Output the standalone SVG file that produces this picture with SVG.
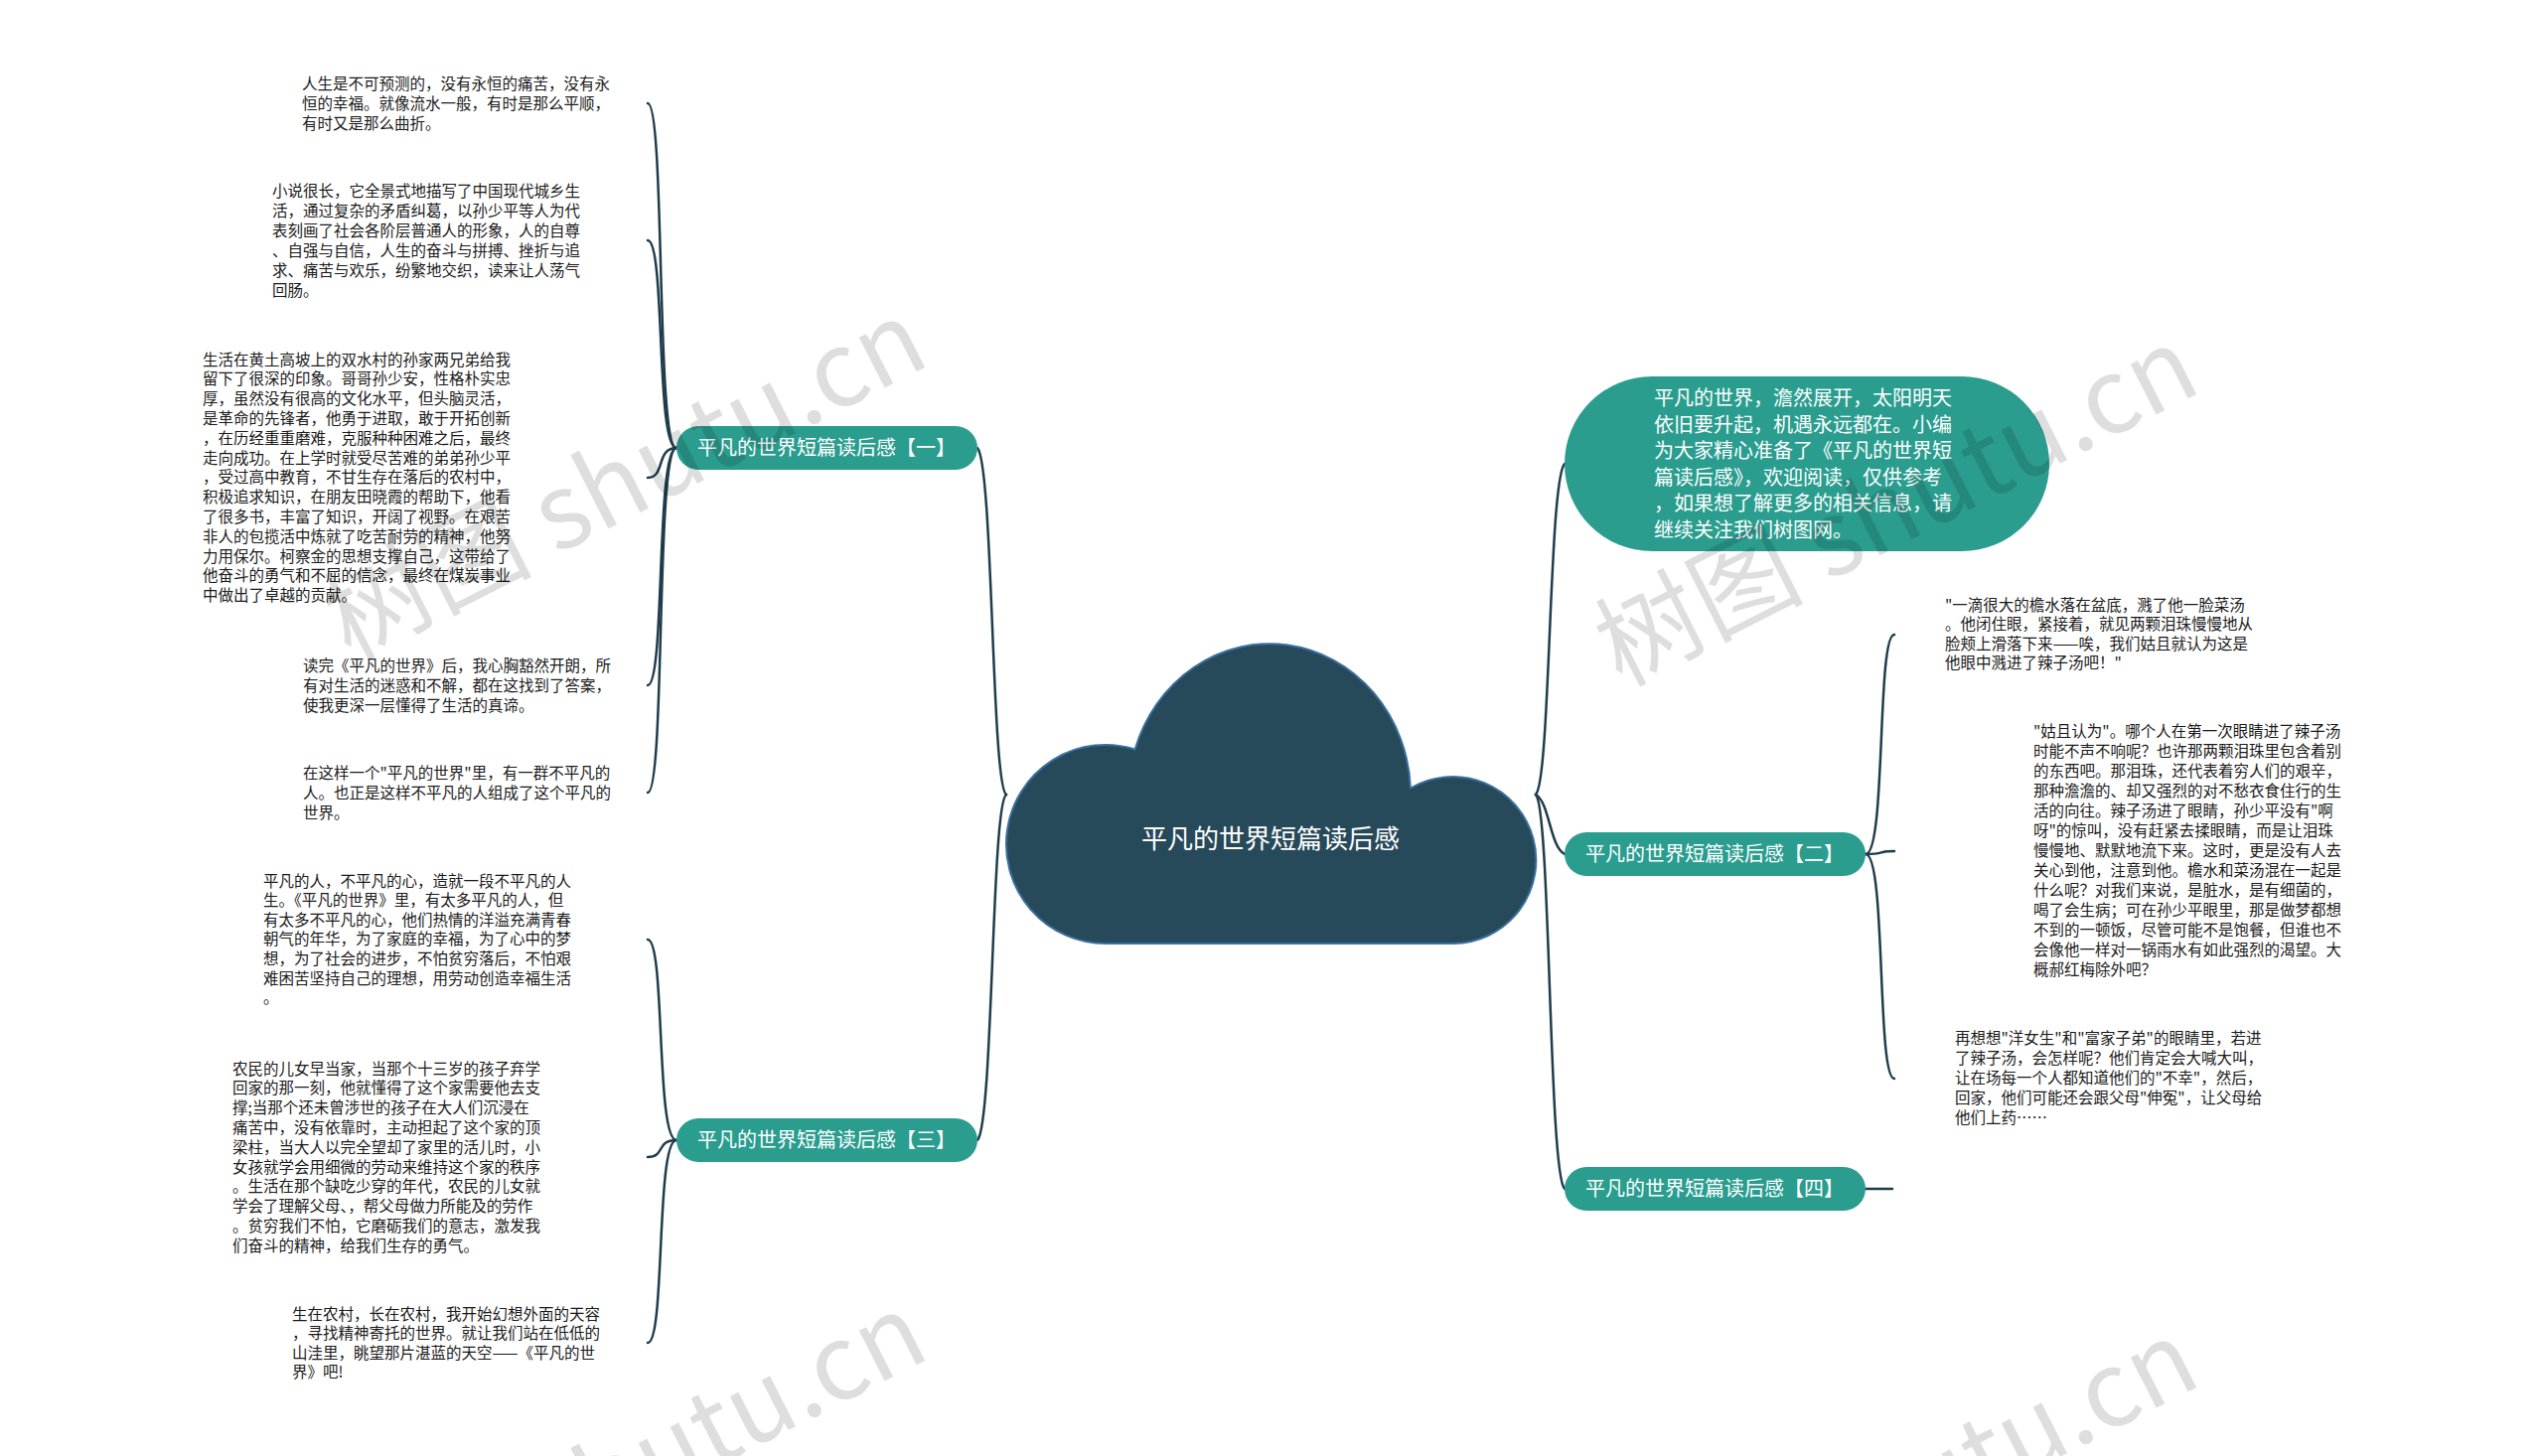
<svg xmlns="http://www.w3.org/2000/svg" width="2560" height="1466" viewBox="0 0 2560 1466">
<style>
.bg{fill:#ffffff}
.txt{font-family:"Noto Sans CJK SC","Noto Sans",sans-serif;font-size:15.5px;fill:#1a1a1a}
.node rect{fill:#2a9d8f}
.ntxt{font-family:"Noto Sans CJK SC","Noto Sans",sans-serif;font-size:20px;fill:#ffffff;text-anchor:middle}
.ptxt{font-family:"Noto Sans CJK SC","Noto Sans",sans-serif;font-size:20px;fill:#ffffff}
.ctxt{font-family:"Noto Sans CJK SC","Noto Sans",sans-serif;font-size:26px;fill:#ffffff;text-anchor:middle}
.conn path{fill:none;stroke:#1f3c4b;stroke-width:2.5;stroke-linecap:round}
.wm{font-family:"Noto Sans CJK SC","Noto Sans",sans-serif;font-size:105px;fill:#000000;fill-opacity:0.13}
</style>
<rect class="bg" x="0" y="0" width="2560" height="1466"/>

<g id="connectors" class="conn">
  <path d="M1013,800 C998,790 1000,470 984,451"/>
  <path d="M1013,800 C998,810 1000,1130 984,1148"/>
  <path d="M1546,800 C1561,785 1559,485 1575,467"/>
  <path d="M1546,800 C1560,808 1560,852 1575,860"/>
  <path d="M1546,800 C1561,815 1559,1180 1575,1197"/>
  <path d="M681,451 C660,451 670,104 652,104"/>
  <path d="M681,451 C660,451 670,242 652,242"/>
  <path d="M681,451 C660,451 670,481 652,481"/>
  <path d="M681,451 C660,451 670,690 652,690"/>
  <path d="M681,451 C660,451 670,798 652,798"/>
  <path d="M681,1148 C660,1148 670,946 652,946"/>
  <path d="M681,1148 C660,1148 670,1165 652,1165"/>
  <path d="M681,1148 C660,1148 670,1352 652,1352"/>
  <path d="M1878,860 C1899,860 1889,639 1907,639"/>
  <path d="M1878,860 C1899,860 1889,857 1907,857"/>
  <path d="M1878,860 C1899,860 1889,1086 1907,1086"/>
  <path d="M1878,1197 L1905,1197"/>
</g>

<g id="root">
  <path d="M1114,950 A100,100 0 1 1 1142.6,754.5 A142,152 0 0 1 1419.9,793.5 A84,84 0 1 1 1463,950 Z" fill="#274a5a" stroke="#3a6fa0" stroke-width="2"/>
  <text class="ctxt" x="1279" y="854">平凡的世界短篇读后感</text>
</g>

<g id="intro" class="node">
  <rect x="1575" y="379" width="488" height="176" rx="88" ry="88"/>
  <text class="ptxt">
    <tspan x="1665" y="408">平凡的世界，澹然展开，太阳明天</tspan>
    <tspan x="1665" y="434.5">依旧要升起，机遇永远都在。小编</tspan>
    <tspan x="1665" y="461">为大家精心准备了《平凡的世界短</tspan>
    <tspan x="1665" y="487.5">篇读后感》，欢迎阅读，仅供参考</tspan>
    <tspan x="1665" y="514">，如果想了解更多的相关信息，请</tspan>
    <tspan x="1665" y="540.5">继续关注我们树图网。</tspan>
  </text>
</g>

<g id="branch1" class="node">
  <rect x="681" y="429" width="303" height="44" rx="22" ry="22"/>
  <text class="ntxt" x="832" y="458">平凡的世界短篇读后感【一】</text>
</g>
<g id="branch2" class="node">
  <rect x="1575" y="838" width="303" height="44" rx="22" ry="22"/>
  <text class="ntxt" x="1726" y="867">平凡的世界短篇读后感【二】</text>
</g>
<g id="branch3" class="node">
  <rect x="681" y="1126" width="303" height="44" rx="22" ry="22"/>
  <text class="ntxt" x="832" y="1155">平凡的世界短篇读后感【三】</text>
</g>
<g id="branch4" class="node">
  <rect x="1575" y="1175" width="303" height="44" rx="22" ry="22"/>
  <text class="ntxt" x="1726" y="1204">平凡的世界短篇读后感【四】</text>
</g>

<g id="leaf1-1">
  <text class="txt">
    <tspan x="304" y="89.5">人生是不可预测的，没有永恒的痛苦，没有永</tspan>
    <tspan x="304" y="109.5">恒的幸福。就像流水一般，有时是那么平顺，</tspan>
    <tspan x="304" y="129.5">有时又是那么曲折。</tspan>
  </text>
</g>
<g id="leaf1-2">
  <text class="txt">
    <tspan x="274" y="197.5">小说很长，它全景式地描写了中国现代城乡生</tspan>
    <tspan x="274" y="217.5">活，通过复杂的矛盾纠葛，以孙少平等人为代</tspan>
    <tspan x="274" y="237.5">表刻画了社会各阶层普通人的形象，人的自尊</tspan>
    <tspan x="274" y="257.5">、自强与自信，人生的奋斗与拼搏、挫折与追</tspan>
    <tspan x="274" y="277.5">求、痛苦与欢乐，纷繁地交织，读来让人荡气</tspan>
    <tspan x="274" y="297.5">回肠。</tspan>
  </text>
</g>
<g id="leaf1-3">
  <text class="txt">
    <tspan x="204" y="367.5">生活在黄土高坡上的双水村的孙家两兄弟给我</tspan>
    <tspan x="204" y="387.3">留下了很深的印象。哥哥孙少安，性格朴实忠</tspan>
    <tspan x="204" y="407.1">厚，虽然没有很高的文化水平，但头脑灵活，</tspan>
    <tspan x="204" y="426.9">是革命的先锋者，他勇于进取，敢于开拓创新</tspan>
    <tspan x="204" y="446.7">，在历经重重磨难，克服种种困难之后，最终</tspan>
    <tspan x="204" y="466.5">走向成功。在上学时就受尽苦难的弟弟孙少平</tspan>
    <tspan x="204" y="486.3">，受过高中教育，不甘生存在落后的农村中，</tspan>
    <tspan x="204" y="506.1">积极追求知识，在朋友田晓霞的帮助下，他看</tspan>
    <tspan x="204" y="525.9">了很多书，丰富了知识，开阔了视野。在艰苦</tspan>
    <tspan x="204" y="545.7">非人的包揽活中炼就了吃苦耐劳的精神，他努</tspan>
    <tspan x="204" y="565.5">力用保尔。柯察金的思想支撑自己，这带给了</tspan>
    <tspan x="204" y="585.3">他奋斗的勇气和不屈的信念，最终在煤炭事业</tspan>
    <tspan x="204" y="605.1">中做出了卓越的贡献。</tspan>
  </text>
</g>
<g id="leaf1-4">
  <text class="txt">
    <tspan x="305" y="675.5">读完《平凡的世界》后，我心胸豁然开朗，所</tspan>
    <tspan x="305" y="695.5">有对生活的迷惑和不解，都在这找到了答案，</tspan>
    <tspan x="305" y="715.5">使我更深一层懂得了生活的真谛。</tspan>
  </text>
</g>
<g id="leaf1-5">
  <text class="txt">
    <tspan x="305" y="783.5">在这样一个"平凡的世界"里，有一群不平凡的</tspan>
    <tspan x="305" y="803.5">人。也正是这样不平凡的人组成了这个平凡的</tspan>
    <tspan x="305" y="823.5">世界。</tspan>
  </text>
</g>
<g id="leaf3-1">
  <text class="txt">
    <tspan x="265" y="892.5">平凡的人，不平凡的心，造就一段不平凡的人</tspan>
    <tspan x="265" y="912.1">生。《平凡的世界》里，有太多平凡的人，但</tspan>
    <tspan x="265" y="931.7">有太多不平凡的心，他们热情的洋溢充满青春</tspan>
    <tspan x="265" y="951.3">朝气的年华，为了家庭的幸福，为了心中的梦</tspan>
    <tspan x="265" y="970.9">想，为了社会的进步，不怕贫穷落后，不怕艰</tspan>
    <tspan x="265" y="990.5">难困苦坚持自己的理想，用劳动创造幸福生活</tspan>
    <tspan x="265" y="1010.1">。</tspan>
  </text>
</g>
<g id="leaf3-2">
  <text class="txt">
    <tspan x="234" y="1081.5">农民的儿女早当家，当那个十三岁的孩子弃学</tspan>
    <tspan x="234" y="1101.3">回家的那一刻，他就懂得了这个家需要他去支</tspan>
    <tspan x="234" y="1121.1">撑;当那个还未曾涉世的孩子在大人们沉浸在</tspan>
    <tspan x="234" y="1140.9">痛苦中，没有依靠时，主动担起了这个家的顶</tspan>
    <tspan x="234" y="1160.7">梁柱，当大人以完全望却了家里的活儿时，小</tspan>
    <tspan x="234" y="1180.5">女孩就学会用细微的劳动来维持这个家的秩序</tspan>
    <tspan x="234" y="1200.3">。生活在那个缺吃少穿的年代，农民的儿女就</tspan>
    <tspan x="234" y="1220.1">学会了理解父母、，帮父母做力所能及的劳作</tspan>
    <tspan x="234" y="1239.9">。贫穷我们不怕，它磨砺我们的意志，激发我</tspan>
    <tspan x="234" y="1259.7">们奋斗的精神，给我们生存的勇气。</tspan>
  </text>
</g>
<g id="leaf3-3">
  <text class="txt">
    <tspan x="294" y="1328.5">生在农村，长在农村，我开始幻想外面的天容</tspan>
    <tspan x="294" y="1348">，寻找精神寄托的世界。就让我们站在低低的</tspan>
    <tspan x="294" y="1367.5">山洼里，眺望那片湛蓝的天空——《平凡的世</tspan>
    <tspan x="294" y="1387">界》吧!</tspan>
  </text>
</g>
<g id="leaf2-1">
  <text class="txt">
    <tspan x="1958" y="614.5">"一滴很大的檐水落在盆底，溅了他一脸菜汤</tspan>
    <tspan x="1958" y="634">。他闭住眼，紧接着，就见两颗泪珠慢慢地从</tspan>
    <tspan x="1958" y="653.5">脸颊上滑落下来——唉，我们姑且就认为这是</tspan>
    <tspan x="1958" y="673">他眼中溅进了辣子汤吧！"</tspan>
  </text>
</g>
<g id="leaf2-2">
  <text class="txt">
    <tspan x="2047" y="741.5">"姑且认为"。哪个人在第一次眼睛进了辣子汤</tspan>
    <tspan x="2047" y="761.5">时能不声不响呢？也许那两颗泪珠里包含着别</tspan>
    <tspan x="2047" y="781.5">的东西吧。那泪珠，还代表着穷人们的艰辛，</tspan>
    <tspan x="2047" y="801.5">那种澹澹的、却又强烈的对不愁衣食住行的生</tspan>
    <tspan x="2047" y="821.5">活的向往。辣子汤进了眼睛，孙少平没有"啊</tspan>
    <tspan x="2047" y="841.5">呀"的惊叫，没有赶紧去揉眼睛，而是让泪珠</tspan>
    <tspan x="2047" y="861.5">慢慢地、默默地流下来。这时，更是没有人去</tspan>
    <tspan x="2047" y="881.5">关心到他，注意到他。檐水和菜汤混在一起是</tspan>
    <tspan x="2047" y="901.5">什么呢？对我们来说，是脏水，是有细菌的，</tspan>
    <tspan x="2047" y="921.5">喝了会生病；可在孙少平眼里，那是做梦都想</tspan>
    <tspan x="2047" y="941.5">不到的一顿饭，尽管可能不是饱餐，但谁也不</tspan>
    <tspan x="2047" y="961.5">会像他一样对一锅雨水有如此强烈的渴望。大</tspan>
    <tspan x="2047" y="981.5">概郝红梅除外吧？</tspan>
  </text>
</g>
<g id="leaf2-3">
  <text class="txt">
    <tspan x="1968" y="1050.5">再想想"洋女生"和"富家子弟"的眼睛里，若进</tspan>
    <tspan x="1968" y="1070.5">了辣子汤，会怎样呢？他们肯定会大喊大叫，</tspan>
    <tspan x="1968" y="1090.5">让在场每一个人都知道他们的"不幸"，然后，</tspan>
    <tspan x="1968" y="1110.5">回家，他们可能还会跟父母"伸冤"，让父母给</tspan>
    <tspan x="1968" y="1130.5">他们上药……</tspan>
  </text>
</g>

<g id="watermarks">
  <text class="wm" transform="translate(352,665) rotate(-27)">树图 shutu.cn</text>
  <text class="wm" transform="translate(1632,692) rotate(-27)">树图 shutu.cn</text>
  <text class="wm" transform="translate(352,1665) rotate(-27)">树图 shutu.cn</text>
  <text class="wm" transform="translate(1632,1692) rotate(-27)">树图 shutu.cn</text>
</g>
</svg>
